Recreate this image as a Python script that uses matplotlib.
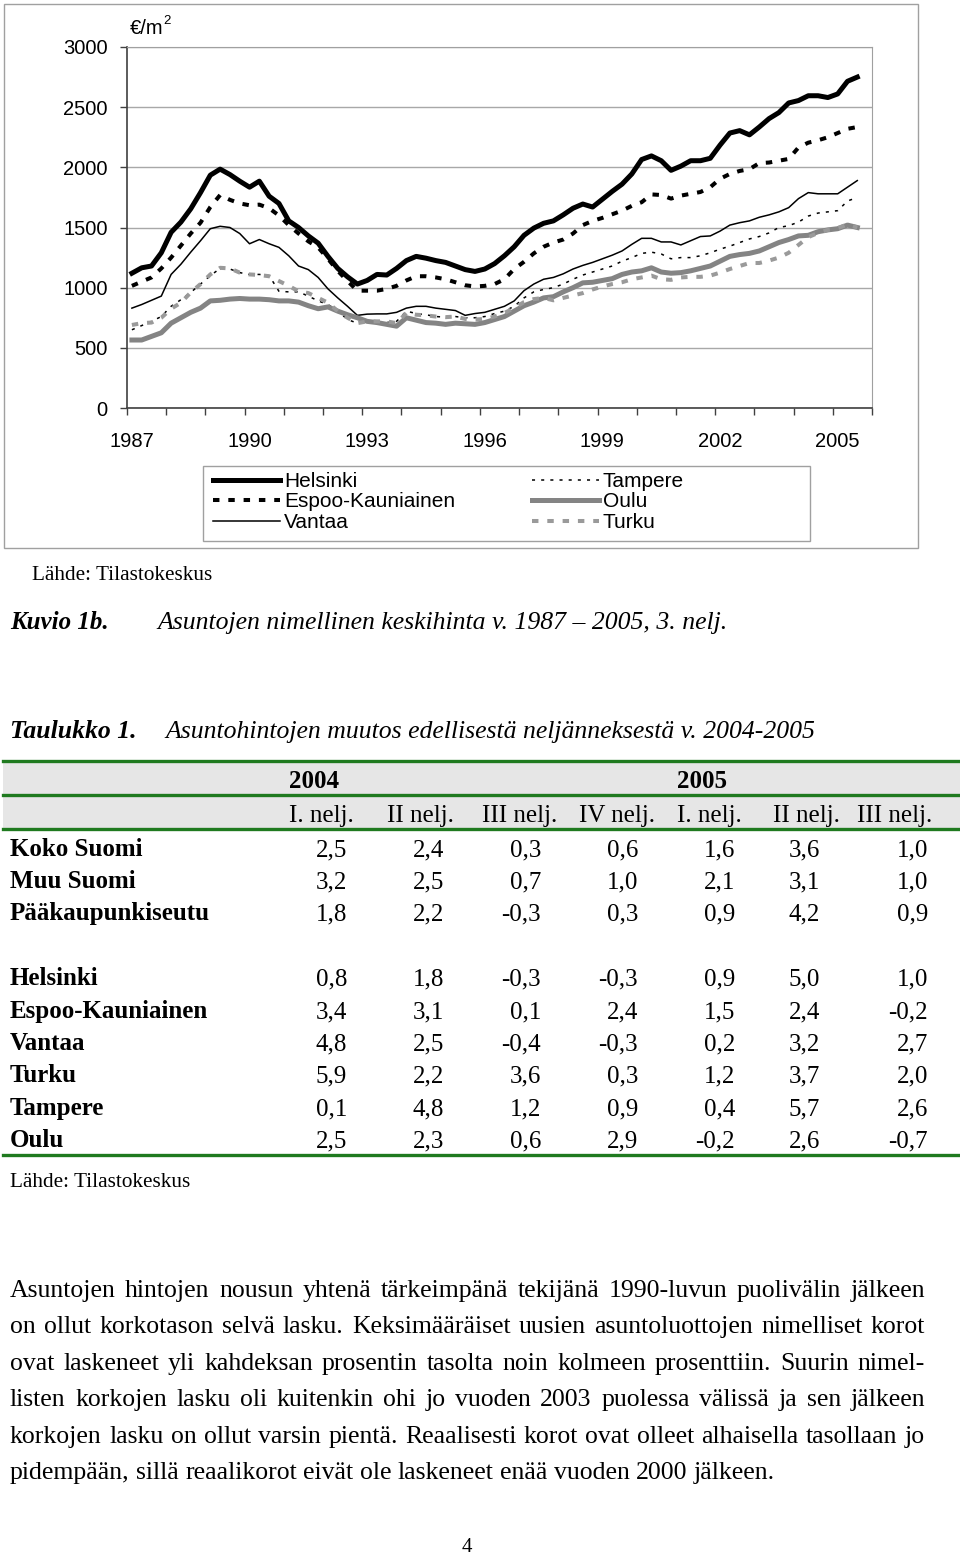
import numpy as np
import matplotlib
matplotlib.use("Agg")
import matplotlib.pyplot as plt
from matplotlib.patches import Rectangle
from matplotlib.lines import Line2D

# quarterly prices 1987Q1 - 2005Q3, euro per m2
helsinki = [1120, 1165, 1180, 1290, 1460, 1545, 1655, 1790, 1935, 1985, 1940, 1885, 1835, 1885, 1760, 1700,
            1555, 1500, 1430, 1370, 1260, 1160, 1090, 1030, 1060, 1110, 1105, 1160, 1225, 1260, 1245, 1225,
            1210, 1180, 1150, 1135, 1155, 1200, 1265, 1340, 1435, 1495, 1535, 1555, 1605, 1660, 1695, 1670,
            1735, 1800, 1860, 1945, 2065, 2095, 2055, 1975, 2010, 2055, 2055, 2075, 2185, 2285, 2305, 2270,
            2335, 2405, 2455, 2535, 2555, 2595, 2595, 2580, 2610, 2715, 2750]
espoo = [1015, 1050, 1085, 1160, 1250, 1350, 1450, 1540, 1670, 1770, 1730, 1700, 1685, 1690, 1660, 1600,
         1520, 1450, 1385, 1335, 1240, 1140, 1055, 975, 975, 975, 990, 1015, 1060, 1095, 1095, 1085,
         1070, 1045, 1020, 1010, 1015, 1030, 1070, 1155, 1215, 1285, 1340, 1375, 1400, 1450, 1520, 1555,
         1580, 1610, 1640, 1680, 1710, 1775, 1770, 1740, 1765, 1780, 1795, 1835, 1905, 1945, 1970, 1985,
         2035, 2040, 2055, 2070, 2165, 2205, 2225, 2250, 2285, 2320, 2335]
vantaa = [830, 860, 895, 930, 1110, 1195, 1295, 1390, 1490, 1510, 1500, 1450, 1365, 1400, 1365, 1335,
          1265, 1180, 1150, 1085, 990, 915, 845, 770, 780, 782, 782, 795, 830, 845, 845, 830,
          820, 810, 770, 785, 795, 820, 845, 890, 975, 1030, 1070, 1085, 1115, 1155, 1185, 1210,
          1240, 1270, 1305, 1360, 1410, 1410, 1380, 1380, 1355, 1390, 1425, 1430, 1470, 1520, 1540, 1555,
          1585, 1605, 1630, 1665, 1740, 1790, 1780, 1780, 1780, 1835, 1890]
tampere = [650, 685, 720, 760, 845, 900, 960, 1030, 1100, 1160, 1155, 1125, 1110, 1110, 1100, 970,
           965, 965, 930, 890, 860, 805, 735, 705, 705, 705, 710, 720, 805, 785, 775, 760,
           755, 760, 750, 750, 760, 785, 805, 845, 915, 965, 985, 1000, 1030, 1070, 1105, 1130,
           1155, 1180, 1220, 1250, 1285, 1295, 1280, 1240, 1250, 1250, 1265, 1290, 1320, 1345, 1375, 1405,
           1425, 1455, 1500, 1515, 1545, 1595, 1620, 1630, 1640, 1720, 1750]
oulu = [565, 565, 595, 625, 705, 750, 795, 830, 890, 895, 905, 910, 905, 905, 900, 890,
        890, 880, 850, 825, 840, 805, 775, 750, 720, 710, 695, 680, 750, 730, 710, 705,
        695, 705, 700, 695, 710, 735, 760, 805, 850, 880, 915, 925, 965, 1000, 1040, 1045,
        1060, 1075, 1110, 1130, 1140, 1165, 1130, 1120, 1125, 1140, 1160, 1180, 1220, 1260, 1275, 1285,
        1305, 1340, 1375, 1400, 1430, 1435, 1465, 1480, 1490, 1520, 1500]
turku = [690, 705, 710, 750, 825, 875, 960, 1030, 1110, 1165, 1160, 1125, 1110, 1105, 1095, 1055,
         1015, 970, 955, 915, 875, 805, 750, 705, 720, 720, 720, 705, 790, 775, 770, 760,
         755, 760, 740, 735, 740, 760, 790, 830, 880, 905, 915, 895, 915, 935, 955, 985,
         1010, 1030, 1045, 1070, 1085, 1100, 1070, 1065, 1085, 1090, 1090, 1100, 1125, 1155, 1180, 1205,
         1205, 1225, 1250, 1290, 1355, 1420, 1455, 1480, 1495, 1525, 1500]

series_names = ["Helsinki", "Espoo-Kauniainen", "Vantaa", "Tampere", "Oulu", "Turku"]
year_labels = ["1987", "1990", "1993", "1996", "1999", "2002", "2005"]
y_ticks = [0, 500, 1000, 1500, 2000, 2500, 3000]

# table 1
col_years = ["2004", "2005"]
col_quarters = ["I. nelj.", "II nelj.", "III nelj.", "IV nelj.", "I. nelj.", "II nelj.", "III nelj."]
row_names = ["Koko Suomi", "Muu Suomi", "Pääkaupunkiseutu",
             "Helsinki", "Espoo-Kauniainen", "Vantaa", "Turku", "Tampere", "Oulu"]
row_values = [
    ["2,5", "2,4", "0,3", "0,6", "1,6", "3,6", "1,0"],
    ["3,2", "2,5", "0,7", "1,0", "2,1", "3,1", "1,0"],
    ["1,8", "2,2", "-0,3", "0,3", "0,9", "4,2", "0,9"],
    ["0,8", "1,8", "-0,3", "-0,3", "0,9", "5,0", "1,0"],
    ["3,4", "3,1", "0,1", "2,4", "1,5", "2,4", "-0,2"],
    ["4,8", "2,5", "-0,4", "-0,3", "0,2", "3,2", "2,7"],
    ["5,9", "2,2", "3,6", "0,3", "1,2", "3,7", "2,0"],
    ["0,1", "4,8", "1,2", "0,9", "0,4", "5,7", "2,6"],
    ["2,5", "2,3", "0,6", "2,9", "-0,2", "2,6", "-0,7"],
]

body_lines = [
    "Asuntojen hintojen nousun yhtenä tärkeimpänä tekijänä 1990-luvun puolivälin jälkeen",
    "on ollut korkotason selvä lasku. Keksimääräiset uusien asuntoluottojen nimelliset korot",
    "ovat laskeneet yli kahdeksan prosentin tasolta noin kolmeen prosenttiin. Suurin nimel-",
    "listen korkojen lasku oli kuitenkin ohi jo vuoden 2003 puolessa välissä ja sen jälkeen",
    "korkojen lasku on ollut varsin pientä. Reaalisesti korot ovat olleet alhaisella tasollaan jo",
    "pidempään, sillä reaalikorot eivät ole laskeneet enää vuoden 2000 jälkeen.",
]

W, H = 960, 1558
SANS = "Liberation Sans"
SERIF = "Liberation Serif"
GREEN = "#1f7a1f"
TS = 18  # table / caption font size

fig = plt.figure(figsize=(9.6, 15.58), dpi=100)

def fx(x):
    return x / W

def fy(y):
    return 1 - y / H

# ---- chart ----
fig.patches.append(Rectangle((fx(4), fy(548)), fx(914), 544 / H, transform=fig.transFigure,
                             fill=False, edgecolor="#a0a0a0", lw=1))

ax = fig.add_axes([fx(127), fy(408), fx(872 - 127), (408 - 47) / H])
q = np.arange(len(helsinki))
ax.plot(q, helsinki, color="black", lw=3.6, solid_joinstyle="round")
ax.plot(q, espoo, color="black", lw=2.9, dashes=(1.6, 2.2), dash_capstyle="butt")
ax.plot(q, vantaa, color="black", lw=1.1)
ax.plot(q, tampere, color="black", lw=1.1, dashes=(2, 4))
ax.plot(q, oulu, color="#848484", lw=3.6, solid_joinstyle="round")
ax.plot(q, turku, color="#9a9a9a", lw=2.9, dashes=(1.6, 2.2), dash_capstyle="butt")

ax.set_xlim(-0.5, 75.5)
ax.set_ylim(0, 3000)
ax.set_yticks(y_ticks)
ax.set_yticklabels([str(v) for v in y_ticks], fontsize=14.5, family=SANS)
ax.set_xticks(np.arange(-0.5, 76, 4))
ax.set_xticklabels([])
ax.set_xticks(np.arange(0, 75, 12), minor=True)
ax.set_xticklabels(year_labels, minor=True, fontsize=14.5, family=SANS)
ax.tick_params(axis="x", which="major", length=5, width=1, color="#404040")
ax.tick_params(axis="x", which="minor", length=0, pad=17)
ax.tick_params(axis="y", length=5, width=1, color="#404040", pad=9)
ax.grid(axis="y", color="#a8a8a8", lw=1)
ax.set_axisbelow(True)
for s in ["top", "right"]:
    ax.spines[s].set_color("#a0a0a0")
for s in ["left", "bottom"]:
    ax.spines[s].set_color("#404040")
    ax.spines[s].set_linewidth(1.2)

fig.text(fx(130), fy(28), "€/m", fontsize=14.5, family=SANS, va="center")
fig.text(fx(163), fy(21), "2", fontsize=9.5, family=SANS, va="center")

# legend
handles = [Line2D([], [], color="black", lw=3.6),
           Line2D([], [], color="black", lw=2.9, dashes=(1.6, 2.2)),
           Line2D([], [], color="black", lw=1.1),
           Line2D([], [], color="black", lw=1.1, dashes=(2, 4)),
           Line2D([], [], color="#848484", lw=3.6),
           Line2D([], [], color="#9a9a9a", lw=2.9, dashes=(1.6, 2.2))]
fig.patches.append(Rectangle((fx(203), fy(541)), fx(810 - 203), 75 / H, transform=fig.transFigure,
                             fill=False, edgecolor="#a0a0a0", lw=1))
fig.legend(handles, series_names, loc="upper left", bbox_to_anchor=(fx(213), fy(472)),
           ncol=2, frameon=False, borderpad=0, borderaxespad=0,
           prop={"family": SANS, "size": 15}, handlelength=3.2, handletextpad=0.2,
           columnspacing=3.7, labelspacing=0.07)

# ---- captions (y = baseline) ----
fig.text(fx(32), fy(580), "Lähde: Tilastokeskus", fontsize=15.3, family=SERIF, va="baseline")
fig.text(fx(10), fy(629), "Kuvio 1b.", fontsize=TS, family=SERIF, style="italic", weight="bold", va="baseline")
fig.text(fx(157), fy(629), "Asuntojen nimellinen keskihinta v. 1987 – 2005, 3. nelj.", fontsize=18.5,
         family=SERIF, style="italic", va="baseline")
fig.text(fx(10), fy(738), "Taulukko 1.", fontsize=18.5, family=SERIF, style="italic", weight="bold", va="baseline")
fig.text(fx(165), fy(738), "Asuntohintojen muutos edellisestä neljänneksestä v. 2004-2005", fontsize=18.5,
         family=SERIF, style="italic", va="baseline")

# ---- table ----
fig.patches.append(Rectangle((fx(3), fy(829)), fx(957), 68 / H, transform=fig.transFigure,
                             facecolor="#e6e6e6", edgecolor="none"))
for yl in [761, 795, 829, 1155]:
    fig.add_artist(Line2D([fx(3), fx(960)], [fy(yl), fy(yl)], color=GREEN, lw=2.4))

fig.text(fx(314), fy(788), col_years[0], fontsize=TS, family=SERIF, weight="bold", ha="center", va="baseline")
fig.text(fx(702), fy(788), col_years[1], fontsize=TS, family=SERIF, weight="bold", ha="center", va="baseline")
q_centers = [321, 420, 520, 617, 709, 806, 895]
for c, lab in zip(q_centers, col_quarters):
    fig.text(fx(c), fy(822), lab, fontsize=TS, family=SERIF, ha="center", va="baseline")

val_right = [347, 444, 541, 638, 735, 820, 928]
row_y = [856, 888, 920, 985, 1018, 1050, 1082, 1115, 1147]
for name, vals, yr in zip(row_names, row_values, row_y):
    fig.text(fx(10), fy(yr), name, fontsize=TS, family=SERIF, weight="bold", va="baseline")
    for xr, v in zip(val_right, vals):
        fig.text(fx(xr), fy(yr), v, fontsize=TS, family=SERIF, ha="right", va="baseline")

fig.text(fx(10), fy(1187), "Lähde: Tilastokeskus", fontsize=15.3, family=SERIF, va="baseline")

# ---- body text, justified ----
renderer = fig.canvas.get_renderer()
BS = 18.5
body_y = [1297, 1333, 1370, 1406, 1443, 1479]
for k, (line, yl) in enumerate(zip(body_lines, body_y)):
    words = line.split()
    objs = [fig.text(0, fy(yl), w, fontsize=BS, family=SERIF, va="baseline") for w in words]
    widths = [o.get_window_extent(renderer).width for o in objs]
    if k == len(body_lines) - 1:
        gap = BS * 100 / 72 * 0.25
    else:
        gap = (925 - 10 - sum(widths)) / (len(words) - 1)
    x = 10
    for o, wd in zip(objs, widths):
        o.set_x(fx(x))
        x += wd + gap

# page number
fig.text(fx(467), fy(1548), "4", fontsize=15, family=SERIF, ha="center", va="center")

fig.savefig("out.png", dpi=100)
